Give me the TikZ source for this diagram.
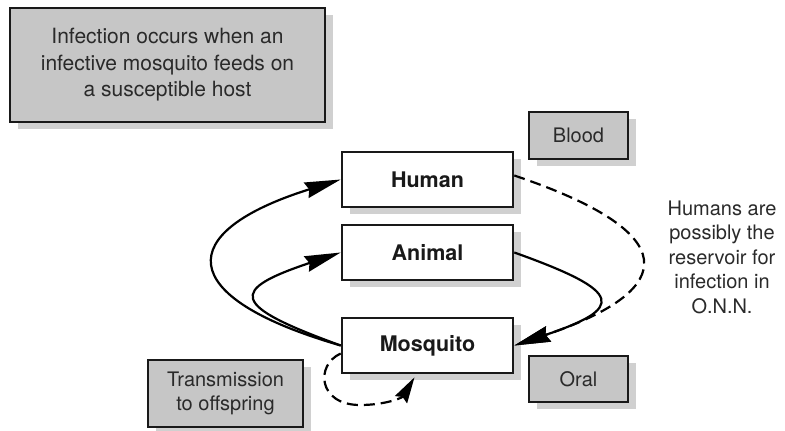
\documentclass[tikz,border=0pt]{standalone}
\usepackage{fontspec}
\setmainfont{TeX Gyre Heros}
\usetikzlibrary{arrows.meta}
\definecolor{boxgray}{HTML}{C6C6C6}
\definecolor{shadowgray}{HTML}{D0D0D0}
\definecolor{txt}{HTML}{2A2A2A}
\begin{document}
\begin{tikzpicture}[x=1pt,y=-1pt,
  graybox/.style={draw=black!90, line width=2.6pt, fill=boxgray, inner sep=0pt, align=center, text=txt, font=\fontsize{20}{24.5}\selectfont},
  hostbox/.style={draw=black!90, line width=2.6pt, fill=white, minimum width=171pt, minimum height=55pt, inner sep=0pt, text=black!90, font=\bfseries\fontsize{21.5}{24}\selectfont},
  dropfill/.style={fill=shadowgray, draw=none},
  link/.style={line width=2.2pt, -{Stealth[length=36pt,width=16pt,inset=3pt]}},
  dlink/.style={link, dash pattern=on 11pt off 6pt}
]
\useasboundingbox (0,0) rectangle (785,431);

% shadows (offset 8 right, 7 down)
\path[dropfill] (18,15) -- (333,15) -- (333,129) -- (18,129) -- cycle;
\path[dropfill] (537,119) -- (636,119) -- (636,166) -- (537,166) -- cycle;
\path[dropfill] (537,363) -- (636,363) -- (636,409) -- (537,409) -- cycle;
\path[dropfill] (156,367) -- (311,367) -- (311,431) -- (156,431) -- cycle;
\path[dropfill] (350,159) -- (521,159) -- (521,214) -- (350,214) -- cycle;
\path[dropfill] (350,232) -- (521,232) -- (521,287) -- (350,287) -- cycle;
\path[dropfill] (350,325) -- (521,325) -- (521,380) -- (350,380) -- cycle;

\node[graybox, minimum width=315pt, minimum height=114pt, font=\fontsize{21}{26.5}\selectfont] (info) at (167.5,65) {Infection occurs when an\\infective mosquito feeds on\\a susceptible host};
\node[graybox, minimum width=99pt, minimum height=47pt] (blood) at (578.5,135.5) {Blood};
\node[graybox, minimum width=99pt, minimum height=46pt] (oral) at (578.5,379) {Oral};
\node[graybox, minimum width=155pt, minimum height=67pt] (trans) at (225.5,393.5) {Transmission\\to offspring};

\node[hostbox] (human) at (427.5,179.5) {Human};
\node[hostbox] (animal) at (427.5,252.5) {Animal};
\node[hostbox] (mosq) at (427.5,345.5) {Mosquito};

\node[align=center, text=txt, font=\fontsize{20}{24.5}\selectfont] (note) at (722,257) {Humans are\\possibly the\\reservoir for\\infection in\\O.N.N.};

\draw[link] (mosq.west) .. controls (173,297) and (173,232) .. (human.west);
\draw[link] (mosq.west) .. controls (229,305) and (229,290) .. (animal.west);
\draw[link] (animal.east) .. controls (625,292) and (625,308) .. (mosq.east);
\draw[dlink] ([yshift=4pt]human.east) .. controls (682,232) and (682,289) .. (mosq.east);
\draw[dlink, -{Stealth[length=26pt,width=14pt,inset=3pt]}] ([yshift=-8pt]mosq.west) .. controls (315,365) and (318,405) .. (360,405) .. controls (385,405) and (402,398) .. ([xshift=-13pt,yshift=-3pt]mosq.south);
\end{tikzpicture}
\end{document}
